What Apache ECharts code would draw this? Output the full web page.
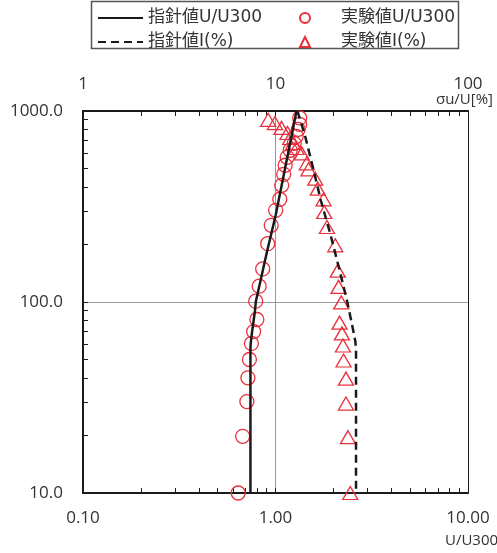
<!DOCTYPE html>
<html>
<head>
<meta charset="utf-8">
<script src="https://cdn.jsdelivr.net/npm/echarts@6/dist/echarts.min.js"></script>
<style>
html, body { margin: 0; padding: 0; background: #fff; }
#chart { width: 497px; height: 553px; }
</style>
</head>
<body>
<div id="chart"></div>
<script>
// 実験値 U/U300（○）
var expHeightU = [920, 851, 802, 737, 677, 623, 572, 520, 466, 408, 345, 302, 252, 202, 149, 121, 101, 81, 70, 60.7, 50, 40.1, 30.1, 19.8, 10];
var expU = [1.336, 1.336, 1.312, 1.281, 1.251, 1.192, 1.150, 1.123, 1.103, 1.077, 1.052, 1.002, 0.950, 0.911, 0.858, 0.823, 0.789, 0.800, 0.770, 0.750, 0.732, 0.719, 0.710, 0.675, 0.640];

// 実験値 I(%)（△）
var expHeightI = [899, 865, 815, 767, 722, 680, 640, 600, 532, 495, 442, 392, 345, 296, 247, 198, 146, 120, 99.5, 78, 68.5, 59.2, 49.4, 39.7, 29.4, 19.6, 10];
var expI = [9.16, 9.93, 10.75, 11.54, 11.92, 12.36, 12.86, 13.68, 14.53, 14.84, 16.09, 16.58, 17.77, 17.92, 18.51, 20.44, 21.06, 21.26, 21.96, 21.52, 22.14, 22.41, 22.57, 23.23, 23.23, 23.79, 24.46];

// 指針値
var guideHeightU = [1000, 617, 282, 185, 101, 90, 80, 70, 62, 58, 10];
var guideU = [1.286, 1.169, 1.0, 0.905, 0.791, 0.782, 0.770, 0.756, 0.745, 0.741, 0.741];
var guideHeightI = [1000, 750, 500, 340, 230, 150, 100, 82, 70, 62, 55, 10];
var guideI = [13.0, 14.2, 15.7, 17.2, 19.2, 21.4, 23.6, 24.6, 25.4, 26.0, 26.2, 26.2];

// 軸と目盛
var xRange = [0.1, 10];
var xTopRange = [1, 100];
var yRange = [10, 1000];
var xTicks = [0.1, 0.2, 0.3, 0.4, 0.5, 0.6, 0.7, 0.8, 0.9, 1, 2, 3, 4, 5, 6, 7, 8, 9, 10];
var xTopTicks = [1, 2, 3, 4, 5, 6, 7, 8, 9, 10, 20, 30, 40, 50, 60, 70, 80, 90, 100];
var yTicks = [10, 20, 30, 40, 50, 60, 70, 80, 90, 100, 200, 300, 400, 500, 600, 700, 800, 900, 1000];

function pairs(xs, ys) {
  return xs.map(function (x, i) { return [x, ys[i]]; });
}

var RED = '#e8303c';
var AXIS = '#1a1a1a';
var GRID = '#9a9a9a';
var labelFont = { color: '#333', fontSize: 17, fontFamily: 'Open Sans' };
var legendFont = { color: '#333', fontSize: 17, lineHeight: 20, fontFamily: "'DejaVu Sans', 'Noto Sans CJK JP'" };

var chart = echarts.init(document.getElementById('chart'));
chart.setOption({
  animation: false,
  grid: { left: 83, right: 29, top: 111, bottom: 60 },
  legend: [{
    orient: 'vertical', left: 92, top: 3, itemGap: 4,
    itemWidth: 45, itemHeight: 4,
    itemStyle: { opacity: 0 },
    data: ['指針値U/U300', '指針値I(%)'],
    textStyle: legendFont
  }, {
    orient: 'vertical', left: 294, top: 3, itemGap: 4,
    itemWidth: 10, itemHeight: 10,
    data: ['実験値U/U300', '実験値I(%)'],
    textStyle: Object.assign({ padding: [0, 0, 0, 26] }, legendFont)
  }],
  graphic: [
    { type: 'rect', shape: { x: 91.5, y: 1.5, width: 367, height: 47 }, style: { fill: 'none', stroke: '#555', lineWidth: 1.5 } },
    { type: 'text', right: 4, top: 92, style: { text: 'σu/U[%]', fontSize: 15, fill: '#333', fontFamily: 'Open Sans' } },
    { type: 'text', left: 445, top: 533, style: { text: 'U/U300', fontSize: 15, fill: '#333', fontFamily: 'Open Sans' } }
  ],
  xAxis: [{
    type: 'log', logBase: 10, min: xRange[0], max: xRange[1], position: 'bottom',
    axisLine: { lineStyle: { color: AXIS, width: 2 } },
    axisTick: { inside: true, length: 5, customValues: xTicks, lineStyle: { color: AXIS } },
    axisLabel: Object.assign({ margin: 17, showMinLabel: true, showMaxLabel: true,
      formatter: function (v) { return v.toFixed(2); } }, labelFont),
    splitLine: { show: false }
  }, {
    type: 'log', logBase: 10, min: xTopRange[0], max: xTopRange[1], position: 'top',
    axisLine: { lineStyle: { color: AXIS, width: 2 } },
    axisTick: { inside: true, length: 5, customValues: xTopTicks, lineStyle: { color: AXIS } },
    axisLabel: Object.assign({ margin: 18, showMinLabel: true, showMaxLabel: true,
      formatter: function (v) { return Math.round(v).toString(); } }, labelFont),
    splitLine: { show: false }
  }, {
    // 縦の補助線（1.00）のみ
    type: 'log', logBase: 10, min: xRange[0], max: xRange[1], position: 'bottom',
    axisLine: { show: false }, axisTick: { show: false }, axisLabel: { show: false },
    splitLine: { show: true, lineStyle: { color: GRID, width: 1 } }
  }],
  yAxis: [{
    type: 'log', logBase: 10, min: yRange[0], max: yRange[1], position: 'left',
    axisLine: { lineStyle: { color: AXIS, width: 2 } },
    axisTick: { inside: true, length: 5, customValues: yTicks, lineStyle: { color: AXIS } },
    axisLabel: Object.assign({ margin: 20, showMinLabel: true, showMaxLabel: true,
      formatter: function (v) { return v.toFixed(1); } }, labelFont),
    splitLine: { show: false }
  }, {
    type: 'log', logBase: 10, min: yRange[0], max: yRange[1], position: 'right',
    axisLine: { lineStyle: { color: AXIS, width: 1 } },
    axisTick: { show: false }, axisLabel: { show: false },
    splitLine: { show: true, lineStyle: { color: GRID, width: 1 } }
  }],
  series: [{
    name: '実験値U/U300', type: 'scatter', xAxisIndex: 0, yAxisIndex: 0, clip: false, z: 2,
    symbol: 'circle', symbolSize: 14,
    itemStyle: { color: 'rgba(0,0,0,0)', borderColor: RED, borderWidth: 1.3, opacity: 1 },
    data: pairs(expU, expHeightU)
  }, {
    name: '実験値I(%)', type: 'scatter', xAxisIndex: 1, yAxisIndex: 0, clip: false, z: 2,
    symbol: 'triangle', symbolSize: [15, 13],
    itemStyle: { color: 'rgba(0,0,0,0)', borderColor: RED, borderWidth: 1.3, opacity: 1 },
    data: pairs(expI, expHeightI)
  }, {
    name: '指針値U/U300', type: 'line', xAxisIndex: 0, yAxisIndex: 0, z: 3,
    symbol: 'none', lineStyle: { color: '#1a1a1a', width: 2.5 },
    itemStyle: { color: '#1a1a1a' },
    data: pairs(guideU, guideHeightU)
  }, {
    name: '指針値I(%)', type: 'line', xAxisIndex: 1, yAxisIndex: 0, z: 3,
    symbol: 'none', lineStyle: { color: '#1a1a1a', width: 2.5, type: [8, 5] },
    itemStyle: { color: '#1a1a1a' },
    data: pairs(guideI, guideHeightI)
  }]
});
</script>
</body>
</html>
